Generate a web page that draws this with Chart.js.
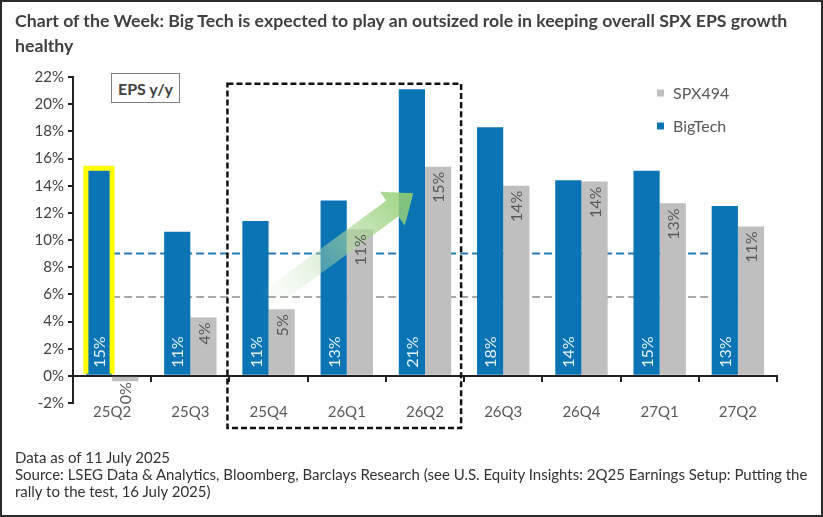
<!DOCTYPE html>
<html><head><meta charset="utf-8">
<script src="https://cdn.jsdelivr.net/npm/chart.js@4"></script>
<style>
html,body{margin:0;padding:0;background:#fff;}
body{width:823px;height:517px;position:relative;overflow:hidden;font-family:Lato,sans-serif;}
#frame{position:absolute;left:0;top:0;width:823px;height:517px;box-sizing:border-box;border:2px solid #2b2b2b;pointer-events:none;z-index:5;}
#title{position:absolute;left:15px;top:8px;font-weight:700;font-size:17.7px;line-height:25px;color:#404040;white-space:nowrap;}
#epsbox{position:absolute;left:111px;top:73px;width:69px;height:30px;box-sizing:border-box;border:1.5px solid #7f7f7f;font-weight:700;font-size:16px;color:#404040;display:flex;align-items:center;justify-content:center;background:#fff;z-index:3;}
#foot{position:absolute;left:15px;top:449px;font-size:15px;line-height:17px;color:#333;white-space:nowrap;}
#wrap{position:absolute;left:0;top:0;width:823px;height:517px;}
</style></head>
<body>
<div id="wrap"><canvas id="c"></canvas></div>
<div id="title">Chart of the Week: Big Tech is expected to play an outsized role in keeping overall SPX EPS growth<br>healthy</div>
<div id="epsbox">EPS y/y</div>
<div id="foot">Data as of 11 July 2025<br>Source: LSEG Data &amp; Analytics, Bloomberg, Barclays Research (see U.S. Equity Insights: 2Q25 Earnings Setup: Putting the<br>rally to the test, 16 July 2025)</div>
<div id="frame"></div>
<script>
const categories = ['25Q2','25Q3','25Q4','26Q1','26Q2','26Q3','26Q4','27Q1','27Q2'];
const bigTech = [15.2, 10.6, 11.4, 12.9, 21.1, 18.3, 14.4, 15.1, 12.5];
const spx494  = [-0.4, 4.3, 4.9, 10.8, 15.4, 14.0, 14.3, 12.7, 11.0];
const bigTechRef = [9.0, 9.0, 9.0, 9.0, 9.0, 9.0, 9.0, 9.0, 9.0];
const spx494Ref  = [5.8, 5.8, 5.8, 5.8, 5.8, 5.8, 5.8, 5.8, 5.8];
const yTickValues = [-2, 0, 2, 4, 6, 8, 10, 12, 14, 16, 18, 20, 22];
const highlightCategory = '25Q2';
const boxedCategories = ['25Q4', '26Q2'];

const BLUE = '#0a74b4', GRAY = '#bfbfbf';
Chart.defaults.font.family = 'Lato';

const overlay = {
  id: 'overlay',
  afterDatasetsDraw(chart) {
    const {ctx, chartArea, scales: {x, y}} = chart;
    const blueMeta = chart.getDatasetMeta(2), grayMeta = chart.getDatasetMeta(3);
    ctx.save();

    // green arrow
    const t = {x: x.getPixelForValue(1.95), y: y.getPixelForValue(5.4)};
    const h = {x: x.getPixelForValue(3.85), y: y.getPixelForValue(13.45)};
    const L = Math.hypot(h.x - t.x, h.y - t.y);
    const u = {x: (h.x - t.x) / L, y: (h.y - t.y) / L};
    const n = {x: -u.y, y: u.x};
    const sw = 10, hw = 21, hl = 26;
    const b = {x: h.x - u.x * hl, y: h.y - u.y * hl};
    const g = ctx.createLinearGradient(t.x, t.y, h.x, h.y);
    g.addColorStop(0, 'rgba(200,230,190,0)');
    g.addColorStop(0.5, 'rgba(175,218,160,0.55)');
    g.addColorStop(1, 'rgba(146,206,110,0.9)');
    ctx.fillStyle = g;
    ctx.beginPath();
    ctx.moveTo(t.x + n.x * sw, t.y + n.y * sw);
    ctx.lineTo(b.x + n.x * sw, b.y + n.y * sw);
    ctx.lineTo(b.x + n.x * hw, b.y + n.y * hw);
    ctx.lineTo(h.x, h.y);
    ctx.lineTo(b.x - n.x * hw, b.y - n.y * hw);
    ctx.lineTo(b.x - n.x * sw, b.y - n.y * sw);
    ctx.lineTo(t.x - n.x * sw, t.y - n.y * sw);
    ctx.closePath();
    ctx.fill();

    // yellow highlight around bar
    const hi = categories.indexOf(highlightCategory);
    const hb = blueMeta.data[hi];
    const half = hb.width / 2;
    ctx.strokeStyle = '#ffff00';
    ctx.lineWidth = 5;
    ctx.beginPath();
    ctx.moveTo(hb.x - half, hb.base - 1);
    ctx.lineTo(hb.x - half, hb.y - 1);
    ctx.lineTo(hb.x + half, hb.y - 1);
    ctx.lineTo(hb.x + half, hb.base - 1);
    ctx.stroke();

    // dashed box
    const cw = x.getPixelForValue(1) - x.getPixelForValue(0);
    const bx1 = x.getPixelForValue(categories.indexOf(boxedCategories[0])) - cw / 2 - 2;
    const bx2 = x.getPixelForValue(categories.indexOf(boxedCategories[1])) + cw / 2 - 3;
    const by1 = y.getPixelForValue(21.5), by2 = chartArea.bottom + 25;
    ctx.setLineDash([6, 3]);
    ctx.lineWidth = 2.5;
    ctx.strokeStyle = '#111';
    ctx.strokeRect(bx1, by1, bx2 - bx1, by2 - by1);
    ctx.setLineDash([]);

    // data labels
    ctx.font = '16px Lato';
    ctx.textBaseline = 'middle';
    blueMeta.data.forEach((el, i) => {
      const txt = Math.round(bigTech[i]) + '%';
      ctx.save();
      ctx.translate(el.x, el.base - 7);
      ctx.rotate(-Math.PI / 2);
      ctx.textAlign = 'left';
      ctx.fillStyle = '#e3f1fb';
      ctx.fillText(txt, 0, 1);
      ctx.restore();
    });
    grayMeta.data.forEach((el, i) => {
      const v = spx494[i];
      const txt = Math.round(v) + '%';
      ctx.save();
      if (v >= 0) ctx.translate(el.x, el.y + 5);
      else ctx.translate(el.x, el.y + 1);
      ctx.rotate(-Math.PI / 2);
      ctx.textAlign = 'right';
      ctx.fillStyle = '#595959';
      ctx.fillText(txt, 0, 1);
      ctx.restore();
    });

    // legend
    const items = [chart.data.datasets[3], chart.data.datasets[2]];
    ctx.font = '16px Lato';
    ctx.textAlign = 'left';
    items.forEach((ds, k) => {
      const ly = chartArea.top + 16 + k * 33;
      const lx = chartArea.right - 120;
      ctx.fillStyle = ds.backgroundColor;
      ctx.fillRect(lx, ly - 3.5, 7, 7);
      ctx.fillStyle = '#595959';
      ctx.fillText(ds.label, lx + 16, ly + 1);
    });
    ctx.restore();
  }
};

new Chart(document.getElementById('c'), {
  type: 'bar',
  data: {
    labels: categories,
    datasets: [
      {type: 'line', label: 'BigTech ref', data: bigTechRef, borderColor: '#1f7ab5', borderWidth: 2, borderDash: [8, 4], pointRadius: 0, fill: false, order: 2},
      {type: 'line', label: 'SPX494 ref', data: spx494Ref, borderColor: '#a8a8a8', borderWidth: 2, borderDash: [8, 4], pointRadius: 0, fill: false, order: 2},
      {label: 'BigTech', data: bigTech, backgroundColor: BLUE, categoryPercentage: 0.67, barPercentage: 1.0, order: 1},
      {label: 'SPX494', data: spx494, backgroundColor: GRAY, categoryPercentage: 0.67, barPercentage: 1.0, order: 1}
    ]
  },
  options: {
    responsive: true,
    maintainAspectRatio: false,
    animation: false,
    layout: {padding: {left: 18, right: 46, top: 77, bottom: 114}},
    plugins: {legend: {display: false}, tooltip: {enabled: false}},
    scales: {
      x: {
        position: {y: 0},
        grid: {display: true, offset: true, drawOnChartArea: false, drawTicks: true, tickLength: 5, color: '#222', lineWidth: 2},
        border: {display: true, color: '#222', width: 2},
        ticks: {padding: 22, color: '#595959', font: {size: 15}}
      },
      y: {
        min: -2, max: 22,
        afterBuildTicks(s) { s.ticks = yTickValues.map(v => ({value: v})); },
        afterFit(s) { s.width = 55; },
        grid: {display: true, drawOnChartArea: false, drawTicks: true, tickLength: 5, color: '#222', lineWidth: 2},
        border: {display: true, color: '#222', width: 2},
        ticks: {padding: 4, color: '#404040', font: {size: 15}, callback: v => v + '%'}
      }
    }
  },
  plugins: [overlay]
});
</script>
</body></html>
